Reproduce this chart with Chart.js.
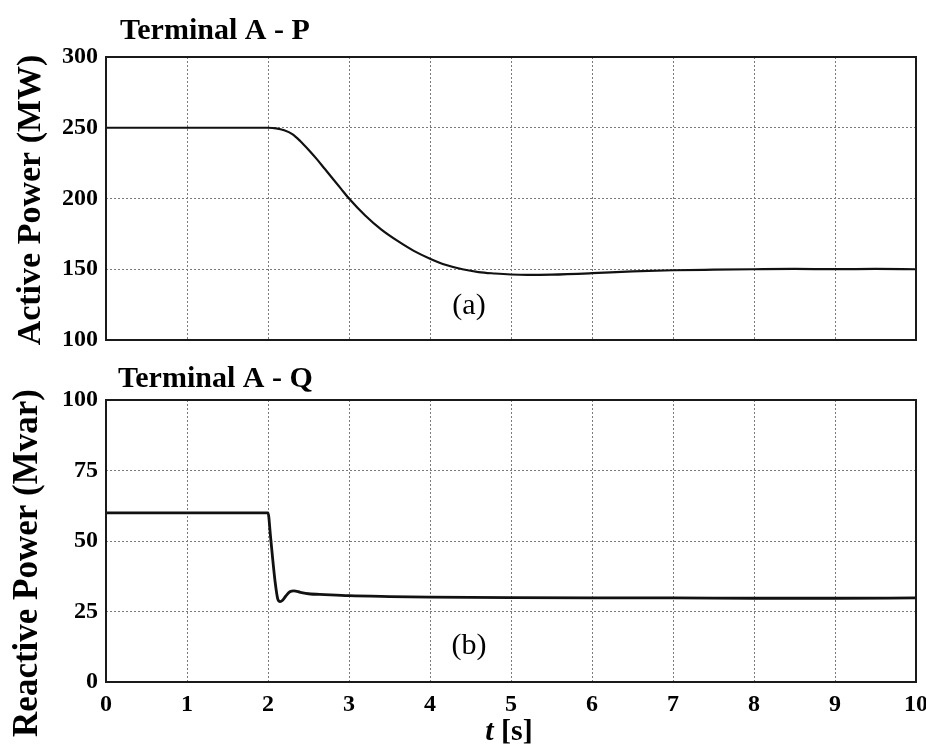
<!DOCTYPE html>
<html>
<head>
<meta charset="utf-8">
<script src="https://cdn.jsdelivr.net/npm/chart.js@4.4.1/dist/chart.umd.min.js"></script>
<style>
  html,body{margin:0;padding:0;background:#fff;}
  #wrap{position:relative;width:926px;height:747px;overflow:hidden;background:#fff;}
  #c1{position:absolute;left:0;top:0;}
  #c2{position:absolute;left:0;top:355px;}
</style>
</head>
<body>
<div id="wrap">
  <canvas id="c1" width="926" height="355"></canvas>
  <canvas id="c2" width="926" height="392"></canvas>
</div>
<script>
// ---- Data ----
const timeP = [0, 1, 2.0, 2.1, 2.2, 2.3, 2.4, 2.5, 2.6, 2.7, 2.8, 2.9, 3.0, 3.2, 3.4, 3.6, 3.8, 4.0, 4.2, 4.4, 4.6, 4.8, 5.0, 5.2, 5.5, 6.0, 6.5, 7.0, 7.5, 8.0, 8.5, 9.0, 9.5, 10];
const activeP = [250, 250, 250, 249.6, 248.2, 245.5, 240.5, 234.5, 228, 221, 214, 207, 200, 188, 178, 170, 163, 157.5, 153, 150, 148, 147, 146.3, 146, 146.2, 147.2, 148.5, 149.3, 149.7, 150, 150.2, 150.1, 150.2, 150];

const timeQ = [0, 1, 2.0, 2.03, 2.06, 2.09, 2.12, 2.15, 2.18, 2.22, 2.27, 2.32, 2.4, 2.5, 2.7, 3.0, 3.5, 4.0, 5.0, 6.0, 7.0, 8.0, 9.0, 10];
const reactiveQ = [60, 60, 60, 52, 43, 35, 29.5, 28.5, 29, 30.5, 32, 32.3, 31.8, 31.3, 31, 30.6, 30.3, 30.1, 29.9, 29.8, 29.8, 29.7, 29.7, 29.8];

const xTicks = [0, 1, 2, 3, 4, 5, 6, 7, 8, 9, 10];
const yTicksP = [100, 150, 200, 250, 300];
const yTicksQ = [0, 25, 50, 75, 100];

const titleP = "Terminal A - P";
const titleQ = "Terminal A - Q";
const yLabelP = "Active Power (MW)";
const yLabelQ = "Reactive Power (Mvar)";

// ---- Styling ----
const SERIF = "'Liberation Serif', 'Times New Roman', serif";
const gridColor = '#7a7a7a';
const tickFont = {family: SERIF, size: 24, weight: 'bold'};

function pts(xs, ys){ return xs.map((x,i)=>({x:x, y:ys[i]})); }

const framePlugin = {
  id: 'frame',
  afterDraw(chart){
    const a = chart.chartArea, ctx = chart.ctx;
    ctx.save();
    ctx.strokeStyle = '#1a1a1a';
    ctx.lineWidth = 2;
    ctx.strokeRect(a.left, a.top, a.right - a.left, a.bottom - a.top);
    ctx.restore();
  }
};

function textPlugin(id, items){
  return {
    id: id,
    afterDraw(chart){
      const ctx = chart.ctx;
      ctx.save();
      ctx.fillStyle = '#000';
      items.forEach(it => {
        ctx.save();
        ctx.translate(it.x, it.y);
        if (it.rot) ctx.rotate(it.rot);
        ctx.textAlign = it.align || 'left';
        ctx.textBaseline = it.baseline || 'alphabetic';
        if (it.parts){
          let total = 0;
          it.parts.forEach(p => { ctx.font = p.font; total += ctx.measureText(p.text).width; });
          let cx = -total/2;
          ctx.textAlign = 'left';
          it.parts.forEach(p => { ctx.font = p.font; ctx.fillText(p.text, cx, 0); cx += ctx.measureText(p.text).width; });
        } else {
          ctx.font = it.font;
          ctx.fillText(it.text, 0, 0);
        }
        ctx.restore();
      });
      ctx.restore();
    }
  };
}

function fixX(h){ return function(s){ s.height = h; s.paddingLeft = 0; s.paddingRight = 0; }; }
function fixY(w){ return function(s){ s.width = w; s.paddingTop = 0; s.paddingBottom = 0; }; }

function makeXScale(showLabels, h){
  return {
    type: 'linear', min: 0, max: 10,
    afterBuildTicks: s => { s.ticks = xTicks.map(v => ({value: v})); },
    ticks: { display: showLabels, stepSize: 1, font: tickFont, color: '#000', padding: 8, maxRotation: 0, autoSkip: false,
             callback: v => String(v) },
    grid: { color: gridColor, lineWidth: 1, drawTicks: false },
    border: { display: false, dash: [2, 2] },
    afterFit: fixX(h)
  };
}
function makeYScale(min, max, ticksArr){
  return {
    type: 'linear', min: min, max: max,
    afterBuildTicks: s => { s.ticks = ticksArr.map(v => ({value: v})); },
    ticks: { font: tickFont, color: '#000', padding: 8, callback: v => String(v) },
    grid: { color: gridColor, lineWidth: 1, drawTicks: false },
    border: { display: false, dash: [2, 2] },
    afterFit: fixY(106)
  };
}

Chart.defaults.animation = false;

new Chart(document.getElementById('c1'), {
  type: 'line',
  data: { datasets: [{ data: pts(timeP, activeP), borderColor: '#111', borderWidth: 2.2, pointRadius: 0, cubicInterpolationMode: 'monotone', fill: false }] },
  options: {
    responsive: false, animation: false,
    layout: { padding: { left: 0, right: 10, top: 57, bottom: 15 } },
    plugins: { legend: { display: false }, tooltip: { enabled: false } },
    scales: { x: makeXScale(false, 0), y: makeYScale(100, 300, yTicksP) }
  },
  plugins: [framePlugin, textPlugin('txt1', [
    { text: titleP, x: 120, y: 39, font: "bold 30px " + SERIF },
    { text: "(a)", x: 469, y: 306, font: "30px " + SERIF, align: 'center', baseline: 'middle' },
    { text: yLabelP, x: 40, y: 200, rot: -Math.PI/2, font: "bold 34px " + SERIF, align: 'center' }
  ])]
});

new Chart(document.getElementById('c2'), {
  type: 'line',
  data: { datasets: [{ data: pts(timeQ, reactiveQ), borderColor: '#111', borderWidth: 2.8, pointRadius: 0, cubicInterpolationMode: 'monotone', fill: false }] },
  options: {
    responsive: false, animation: false,
    layout: { padding: { left: 0, right: 10, top: 45, bottom: 0 } },
    plugins: { legend: { display: false }, tooltip: { enabled: false } },
    scales: { x: makeXScale(true, 65), y: makeYScale(0, 100, yTicksQ) }
  },
  plugins: [framePlugin, textPlugin('txt2', [
    { text: titleQ, x: 118, y: 32, font: "bold 30px " + SERIF },
    { text: "(b)", x: 469, y: 291, font: "30px " + SERIF, align: 'center', baseline: 'middle' },
    { text: yLabelQ, x: 37, y: 208, rot: -Math.PI/2, font: "bold 35px " + SERIF, align: 'center' },
    { x: 509, y: 385, parts: [
        { text: "t", font: "italic bold 30px " + SERIF },
        { text: " [s]", font: "bold 30px " + SERIF }
    ]}
  ])]
});
</script>
</body>
</html>
